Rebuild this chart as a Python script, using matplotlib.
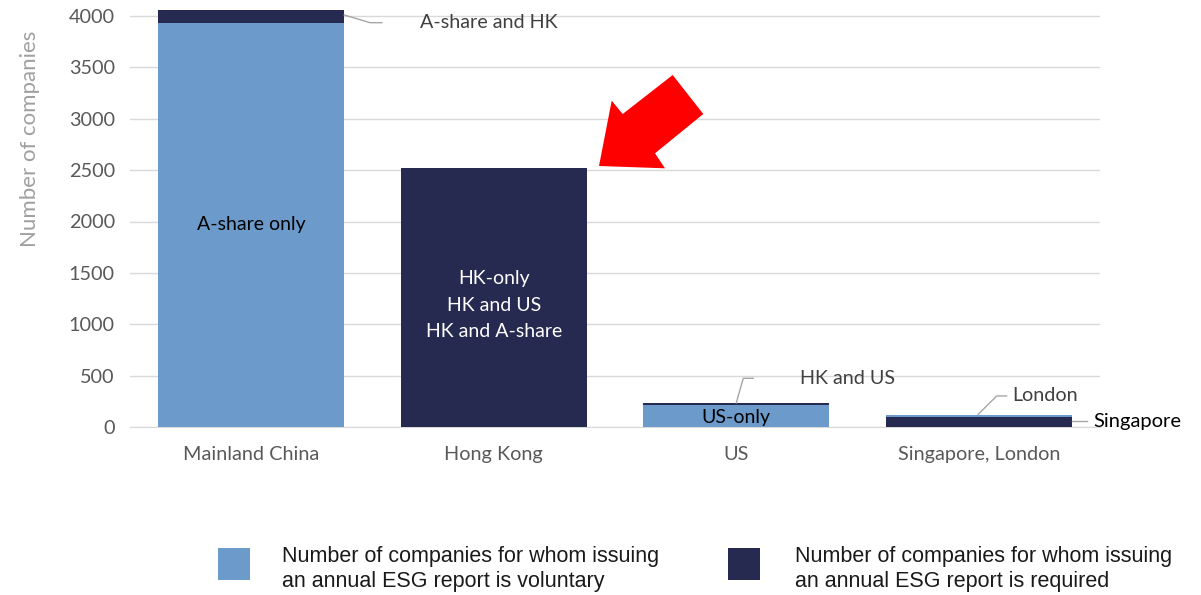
import matplotlib
matplotlib.use("Agg")
import matplotlib.pyplot as plt
from matplotlib.patches import Polygon
import numpy as np

categories = ["Mainland China", "Hong Kong", "US", "Singapore, London"]
# stacking from bottom to top
required_bottom = [0, 0, 0, 94]        # Singapore (required) at bottom
voluntary = [3935, 0, 214, 25]        # A-share only, -, US-only, London
required_top = [123, 2524, 20, 0]      # A-share and HK, HK, HK and US, -

LIGHT = "#6C9BCB"
DARK = "#262950"

plt.rcParams['font.family'] = ['Lato', 'DejaVu Sans']

fig = plt.figure(figsize=(12.01, 5.95), dpi=100)
ax = fig.add_axes([130/1201, (595-427)/595, 970/1201, (4100*0.10275)/595])

x = np.arange(len(categories))
w = 0.767
rb = np.array(required_bottom)
vo = np.array(voluntary)
rt = np.array(required_top)
ax.bar(x, rb, w, color=DARK, zorder=3)
ax.bar(x, vo, w, bottom=rb, color=LIGHT, zorder=3)
ax.bar(x, rt, w, bottom=rb + vo, color=DARK, zorder=3)

ax.set_xlim(-0.5, 3.5)
ax.set_ylim(0, 4100)
ax.set_yticks(range(0, 4001, 500))
ax.yaxis.grid(True, color="#D9D9D9", linewidth=1, zorder=0)
ax.set_axisbelow(True)
for s in ["top", "right", "left"]:
    ax.spines[s].set_visible(False)
ax.spines["bottom"].set_color("#D9D9D9")
ax.tick_params(axis="both", length=0, labelsize=14.3, labelcolor="#595959")
ax.tick_params(axis="y", pad=11)
ax.tick_params(axis="x", pad=14)
ax.set_xticks(x)
ax.set_xticklabels(categories)
fig.text(30/1201, 1 - 139/595, "Number of companies", rotation=90, ha="center", va="center",
         fontsize=16, color="#A0A0A0")

# labels inside bars
ax.text(0, 1966, "A-share only", ha="center", va="center", fontsize=14, color="black", zorder=4)
ax.text(1, 1187, "HK-only\nHK and US\nHK and A-share", ha="center", va="center",
        fontsize=14, color="white", linespacing=1.67, zorder=4)
ax.text(2, 95, "US-only", ha="center", va="center", fontsize=14, color="black", zorder=4)

# callouts
lc = "#A6A6A6"
tc = "#404040"
ax.plot([0 + w/2, 0.49, 0.539], [4010, 3935, 3935], color=lc, lw=1, clip_on=False, zorder=4)
ax.text(0.696, 3935, "A-share and HK", ha="left", va="center", fontsize=14.2, color=tc)

top2 = rb[2] + vo[2] + rt[2]
ax.plot([2.0, 2.029, 2.07], [top2, 474, 474], color=lc, lw=1, zorder=4)
ax.text(2.263, 474, "HK and US", ha="left", va="center", fontsize=14.2, color=tc)

ax.plot([2.998, 3.074, 3.115], [124, 302, 302], color=lc, lw=1, zorder=4)
ax.text(3.14, 302, "London", ha="left", va="center", fontsize=14.2, color=tc)
ax.plot([3 + w/2, 3.445], [rb[3] / 2 + 10, rb[3] / 2 + 10], color=lc, lw=1, clip_on=False, zorder=4)
ax.text(3.471, rb[3] / 2 + 10, "Singapore", ha="left", va="center", fontsize=14.5, color="black",
        clip_on=False)

# red arrow (decoration, in figure pixel coords)
pts = [(599, 166), (611.7, 100.7), (622.7, 114), (672.7, 75), (703.3, 114), (655, 153.3), (665, 168.3)]
fpts = [(px / 1201, 1 - py / 595) for px, py in pts]
fig.patches.append(Polygon(fpts, closed=True, transform=fig.transFigure, facecolor="#FF0000",
                           edgecolor="none", zorder=10))

# legend
fig.patches.append(plt.Rectangle((218/1201, 1 - 580/595), 32/1201, 32/595, transform=fig.transFigure,
                                 facecolor=LIGHT, edgecolor="none"))
fig.patches.append(plt.Rectangle((728/1201, 1 - 580/595), 32/1201, 32/595, transform=fig.transFigure,
                                 facecolor=DARK, edgecolor="none"))
legfont = ["Liberation Sans", "DejaVu Sans"]
fig.text(282/1201, 1 - 569/595, "Number of companies for whom issuing\nan annual ESG report is voluntary",
         ha="left", va="center", fontsize=15.5, color="#1a1a1a", family=legfont, linespacing=1.25)
fig.text(795/1201, 1 - 569/595, "Number of companies for whom issuing\nan annual ESG report is required",
         ha="left", va="center", fontsize=15.5, color="#1a1a1a", family=legfont, linespacing=1.25)

fig.savefig("out.png", dpi=100)
